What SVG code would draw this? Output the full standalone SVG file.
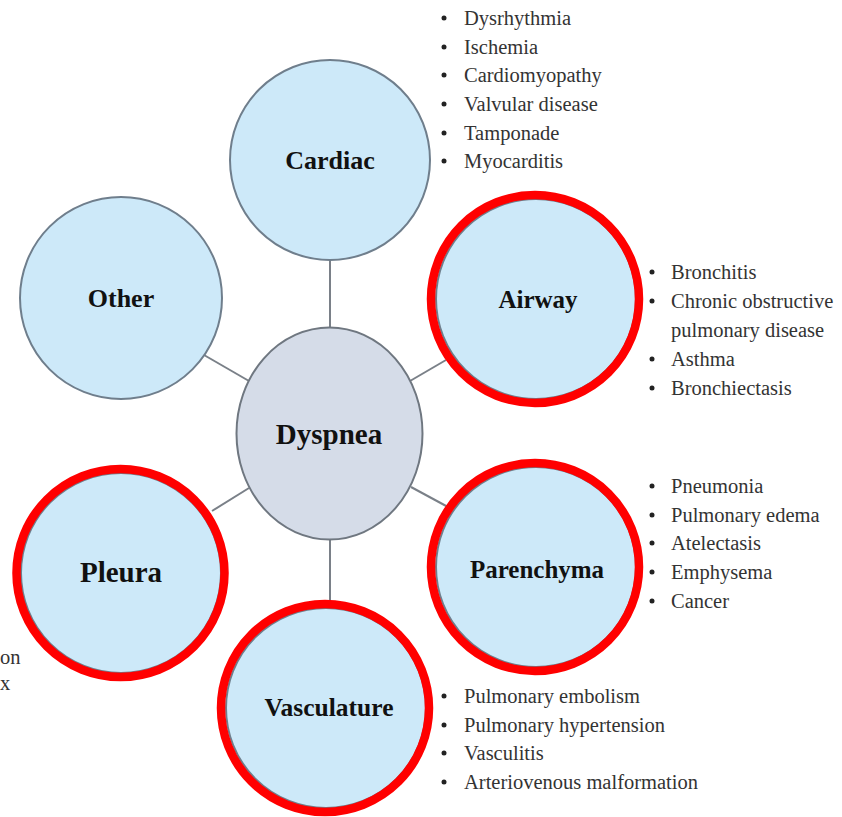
<svg xmlns="http://www.w3.org/2000/svg" width="842" height="817" viewBox="0 0 842 817">
<style>
.bg{fill:#ffffff}
.node{fill:#cde9f9;stroke:#6f7e8c;stroke-width:2}
.hub{fill:#d5dce8;stroke:#6f7780;stroke-width:2}
.ring{fill:none;stroke:#ff0000;stroke-width:8.5}
.lbl{font-family:"Liberation Serif","Times New Roman",serif;font-weight:bold;fill:#111;text-anchor:middle}
.item{font-family:"Liberation Serif","Times New Roman",serif;font-size:20.5px;fill:#333333}
.bul{fill:#222}
.conn line{stroke:#7a8088;stroke-width:2}
</style>
<rect class="bg" x="0" y="0" width="842" height="817"/>
<g id="connectors" class="conn">
<line x1="330" y1="258" x2="330" y2="328"/>
<line x1="330" y1="539" x2="330" y2="604"/>
<line x1="204" y1="355" x2="249" y2="381"/>
<line x1="410" y1="381" x2="446" y2="360"/>
<line x1="212" y1="511" x2="249" y2="488"/>
<line x1="411" y1="487" x2="448" y2="507"/>
</g>
<g id="cardiac">
<circle class="node" cx="330" cy="160" r="100"/>
<text class="lbl" x="330" y="169" font-size="26">Cardiac</text>
</g>
<g id="other">
<circle class="node" cx="121" cy="298" r="101"/>
<text class="lbl" x="121" y="307" font-size="26">Other</text>
</g>
<g id="airway">
<circle class="node" cx="536" cy="299" r="100"/>
<circle class="ring" cx="535" cy="299" r="104"/>
<text class="lbl" x="538" y="308" font-size="25">Airway</text>
</g>
<g id="dyspnea">
<ellipse class="hub" cx="329.5" cy="433.5" rx="93" ry="106"/>
<text class="lbl" x="329" y="444" font-size="29">Dyspnea</text>
</g>
<g id="pleura">
<circle class="node" cx="121" cy="573" r="100"/>
<circle class="ring" cx="120.5" cy="573" r="104"/>
<text class="lbl" x="121" y="582" font-size="29">Pleura</text>
</g>
<g id="parenchyma">
<circle class="node" cx="536" cy="567" r="100"/>
<circle class="ring" cx="535" cy="567" r="104"/>
<text class="lbl" x="537" y="578" font-size="25">Parenchyma</text>
</g>
<g id="vasculature">
<circle class="node" cx="326" cy="708" r="100"/>
<circle class="ring" cx="325" cy="708" r="104"/>
<text class="lbl" x="329" y="716" font-size="25.5">Vasculature</text>
</g>
<g id="cardiac-list">
<circle class="bul" cx="444" cy="18" r="2.5"/><text class="item" x="464" y="25">Dysrhythmia</text>
<circle class="bul" cx="444" cy="47" r="2.5"/><text class="item" x="464" y="54">Ischemia</text>
<circle class="bul" cx="444" cy="75" r="2.5"/><text class="item" x="464" y="82">Cardiomyopathy</text>
<circle class="bul" cx="444" cy="104" r="2.5"/><text class="item" x="464" y="111">Valvular disease</text>
<circle class="bul" cx="444" cy="133" r="2.5"/><text class="item" x="464" y="140">Tamponade</text>
<circle class="bul" cx="444" cy="161" r="2.5"/><text class="item" x="464" y="168">Myocarditis</text>
</g>
<g id="airway-list">
<circle class="bul" cx="652" cy="272" r="2.5"/><text class="item" x="671" y="279">Bronchitis</text>
<circle class="bul" cx="652" cy="301" r="2.5"/><text class="item" x="671" y="308">Chronic obstructive</text>
<text class="item" x="671" y="337">pulmonary disease</text>
<circle class="bul" cx="652" cy="359" r="2.5"/><text class="item" x="671" y="366">Asthma</text>
<circle class="bul" cx="652" cy="388" r="2.5"/><text class="item" x="671" y="395">Bronchiectasis</text>
</g>
<g id="parenchyma-list">
<circle class="bul" cx="652" cy="486" r="2.5"/><text class="item" x="671" y="493">Pneumonia</text>
<circle class="bul" cx="652" cy="515" r="2.5"/><text class="item" x="671" y="522">Pulmonary edema</text>
<circle class="bul" cx="652" cy="543" r="2.5"/><text class="item" x="671" y="550">Atelectasis</text>
<circle class="bul" cx="652" cy="572" r="2.5"/><text class="item" x="671" y="579">Emphysema</text>
<circle class="bul" cx="652" cy="601" r="2.5"/><text class="item" x="671" y="608">Cancer</text>
</g>
<g id="vasculature-list">
<circle class="bul" cx="444" cy="696" r="2.5"/><text class="item" x="464" y="703">Pulmonary embolism</text>
<circle class="bul" cx="444" cy="725" r="2.5"/><text class="item" x="464" y="732">Pulmonary hypertension</text>
<circle class="bul" cx="444" cy="753" r="2.5"/><text class="item" x="464" y="760">Vasculitis</text>
<circle class="bul" cx="444" cy="782" r="2.5"/><text class="item" x="464" y="789">Arteriovenous malformation</text>
</g>
<g id="pleura-list">
<text class="item" x="0" y="664" font-size="19">on</text>
<text class="item" x="0" y="690" font-size="19">x</text>
</g>
</svg>
